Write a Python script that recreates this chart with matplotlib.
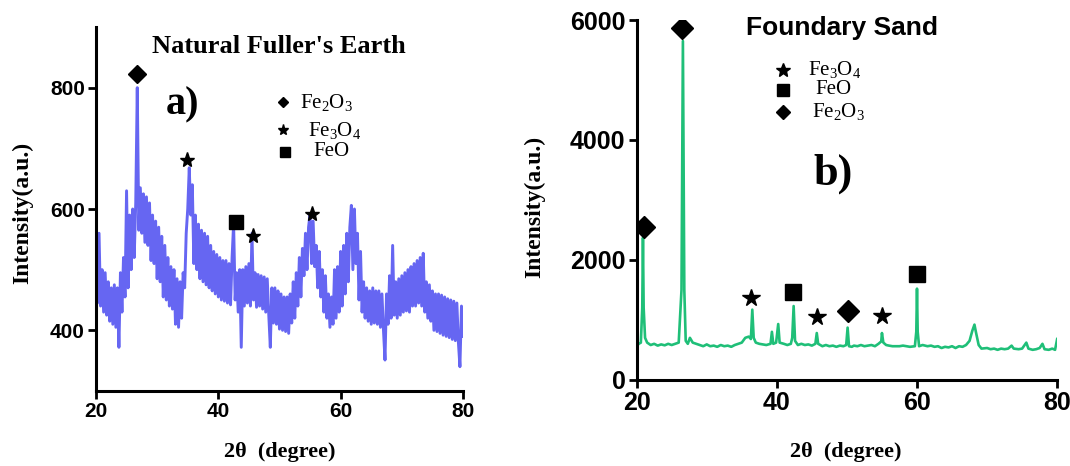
import numpy as np
import matplotlib
matplotlib.use("Agg")
import matplotlib.pyplot as plt

# ---- panel a) Natural Fuller's Earth (0.25 deg steps) ----
two_theta_a = np.arange(20.0, 80.01, 0.25)
intensity_a = [
    505, 445, 560, 440,   500, 430, 495, 425,   480, 415, 470, 410,   475, 405, 470, 372,
    495, 430, 520, 455,   630, 470, 590, 500,   600, 520, 610, 800,   565, 635, 560, 625,
    545, 620, 540, 610,   515, 590, 510, 580,   485, 570, 480, 555,   455, 540, 450, 520,
    440, 505, 435, 500,   410, 485, 405, 480,   420, 495, 470, 560,   600, 668, 590, 640,
    510, 590, 500, 575,   485, 565, 480, 560,   475, 555, 470, 540,   465, 530, 460, 525,
    455, 520, 450, 515,   448, 515, 445, 510,   442, 520, 576, 450,   495, 430, 500, 372,
    500, 440, 505, 445,   510, 440, 560, 450,   495, 438, 492, 440,   490, 435, 488, 430,
    485, 425, 372, 470,   412, 470, 410, 465,   402, 460, 400, 455,   398, 455, 395, 460,
    412, 480, 420, 495,   440, 520, 455, 535,   490, 560, 500, 570,   591, 510, 580, 505,
    540, 470, 530, 455,   500, 430, 490, 420,   460, 405, 455, 410,   500, 420, 505, 430,
    530, 440, 540, 460,   560, 480, 570, 606,   500, 600, 510, 560,   450, 530, 430, 480,
    420, 470, 415, 465,   410, 470, 412, 465,   410, 465, 405, 460,   400, 351, 460, 410,
    490, 420, 540, 425,   480, 420, 485, 425,   490, 430, 495, 432,   500, 430, 505, 440,
    510, 440, 515, 445,   520, 440, 527, 430,   480, 420, 475, 415,   465, 400, 460, 398,
    460, 395, 458, 392,   455, 390, 452, 388,   450, 385, 448, 383,   445, 380, 340, 440,
    390,
]
peaks_a_x = {"Fe2O3": [26.7], "Fe3O4": [34.9, 45.7, 55.3], "FeO": [42.9]}
peaks_a_y = {"Fe2O3": [823], "Fe3O4": [680, 555, 591], "FeO": [578]}

# ---- panel b) Foundary Sand ----
two_theta_b = [
    20.0, 20.3, 20.6, 20.8, 20.9, 21.0, 21.2, 21.5, 22.0, 22.5, 23.0, 23.5, 24.0, 24.5,
    25.0, 25.5, 26.0, 26.4, 26.6, 26.8, 27.0, 27.3, 27.6, 28.0, 28.5, 29.0, 29.5, 30.0,
    30.5, 31.0, 31.5, 32.0, 32.5, 33.0, 33.5, 34.0, 34.5, 35.0, 35.5, 36.0, 36.3, 36.5,
    36.7, 37.0, 37.5, 38.0, 38.5, 39.1, 39.3, 39.5, 39.9, 40.2, 40.4, 41.0, 41.5, 42.0,
    42.2, 42.4, 42.6, 43.0, 43.5, 44.0, 44.5, 45.0, 45.5, 45.7, 45.9, 46.5, 47.0, 47.5,
    48.0, 48.5, 49.0, 49.5, 49.9, 50.1, 50.3, 50.7, 51.0, 51.5, 52.0, 52.5, 53.0, 53.5,
    54.0, 54.5, 54.9, 55.0, 55.2, 55.6, 56.0, 56.5, 57.0, 57.5, 58.0, 58.5, 59.0, 59.7,
    59.9, 60.0, 60.1, 60.3, 60.8, 61.5, 62.0, 62.5, 63.0, 63.5, 64.0, 64.5, 65.0, 65.5,
    66.0, 66.5, 67.0, 67.5, 67.9, 68.2, 68.4, 68.8, 69.2, 70.0, 70.5, 71.0, 71.5, 72.0,
    72.5, 73.0, 73.5, 73.8, 74.5, 75.0, 75.6, 75.9, 76.5, 77.0, 77.5, 77.9, 78.2, 78.8,
    79.3, 79.7, 80.0,
]
intensity_b = [
    560, 600, 620, 1200, 2370, 1200, 700, 620, 580, 600, 570, 590, 575, 600,
    580, 600, 620, 1500, 5650, 1500, 650, 600, 700, 620, 600, 580, 560, 590,
    560, 570, 550, 580, 560, 570, 550, 580, 600, 620, 700, 720, 680, 1170,
    700, 620, 600, 590, 580, 600, 800, 600, 620, 930, 620, 600, 580, 600,
    700, 1230, 650, 580, 600, 580, 590, 570, 600, 780, 600, 560, 580, 560,
    570, 550, 570, 560, 580, 870, 560, 550, 570, 560, 580, 560, 570, 580,
    560, 600, 640, 780, 620, 580, 570, 560, 560, 560, 570, 560, 550, 560,
    800, 1520, 800, 560, 580, 560, 570, 550, 560, 530, 550, 540, 560, 530,
    560, 550, 580, 650, 820, 920, 800, 580, 520, 530, 510, 520, 500, 520,
    510, 520, 570, 520, 510, 520, 620, 520, 500, 510, 530, 600, 510, 500,
    520, 500, 680,
]
peaks_b_x = {"Fe2O3": [21.1, 26.4, 50.1], "Fe3O4": [36.3, 45.7, 55.0], "FeO": [42.3, 60.0]}
peaks_b_y = {"Fe2O3": [2550, 5870, 1150], "Fe3O4": [1370, 1050, 1070], "FeO": [1470, 1770]}

phase_marker = {"Fe2O3": "D", "Fe3O4": "*", "FeO": "s"}
phase_label = {"Fe2O3": r"Fe$_2$O$_3$", "Fe3O4": r"Fe$_3$O$_4$", "FeO": "FeO"}

tick_font = ["Liberation Sans Narrow", "Liberation Sans", "DejaVu Sans"]
serif = ["Liberation Serif", "DejaVu Serif"]
plt.rcParams["mathtext.fontset"] = "custom"
plt.rcParams["mathtext.rm"] = "Liberation Serif"
plt.rcParams["mathtext.it"] = "Liberation Serif:italic"
plt.rcParams["mathtext.bf"] = "Liberation Serif:bold"

fig = plt.figure(figsize=(10.7, 4.66), dpi=100)
ax1 = fig.add_axes([0.0897, 0.161, 0.343, 0.781])
ax2 = fig.add_axes([0.595, 0.185, 0.393, 0.772])


def style_axes(ax, size):
    for s in ["top", "right"]:
        ax.spines[s].set_visible(False)
    for s in ["left", "bottom"]:
        ax.spines[s].set_linewidth(2.2)
    ax.tick_params(direction="out", length=6, width=2, pad=2)
    for lab in ax.get_xticklabels() + ax.get_yticklabels():
        lab.set_family(tick_font)
        lab.set_fontweight("bold")
        lab.set_fontsize(size)


# panel a
ax1.plot(two_theta_a, intensity_a, color="#4b4bf0", lw=2.1, alpha=0.85)
for ph in ["Fe2O3", "Fe3O4", "FeO"]:
    ms = {"D": 9.5, "*": 11, "s": 10}[phase_marker[ph]]
    ax1.plot(peaks_a_x[ph], peaks_a_y[ph], ls="none", marker=phase_marker[ph],
             ms=ms, color="black")
ax1.set_xlim(20, 80)
ax1.set_ylim(300, 900)
ax1.set_xticks([20, 40, 60, 80])
ax1.set_yticks([400, 600, 800])
style_axes(ax1, 15)
fig.text(0.021, 0.543, "Intensity(a.u.)", family=serif, fontweight="bold", fontsize=17,
         rotation=90, ha="center", va="center")
fig.text(0.261, 0.030, "2θ  (degree)", family=serif, fontweight="bold", fontsize=16,
         ha="center", va="center")
fig.text(0.261, 0.90, "Natural Fuller's Earth", family=serif, fontweight="bold",
         fontsize=19, ha="center", va="center")
fig.text(0.171, 0.775, "a)", family=serif, fontweight="bold", fontsize=29,
         ha="center", va="center")

# legend a
leg_a = [("Fe2O3", 0.2645, 0.781, 0.280), ("Fe3O4", 0.2645, 0.721, 0.288),
         ("FeO", 0.2665, 0.674, 0.293)]
for ph, mx, my, tx in leg_a:
    ms = {"D": 5.5, "*": 8, "s": 7}[phase_marker[ph]]
    fig.lines.append(plt.Line2D([mx], [my], transform=fig.transFigure, ls="none",
                                marker=phase_marker[ph], ms=ms, color="black"))
    fig.text(tx, my, phase_label[ph], family=serif, fontsize=15, ha="left", va="center")

# panel b
ax2.plot(two_theta_b, intensity_b, color="#1fbf78", lw=1.9)
for ph in ["Fe2O3", "Fe3O4", "FeO"]:
    ms = {"D": 11, "*": 13, "s": 11.5}[phase_marker[ph]]
    ax2.plot(peaks_b_x[ph], peaks_b_y[ph], ls="none", marker=phase_marker[ph],
             ms=ms, color="black")
ax2.set_xlim(20, 80)
ax2.set_ylim(0, 6000)
ax2.set_xticks([20, 40, 60, 80])
ax2.set_yticks([0, 2000, 4000, 6000])
style_axes(ax2, 18)
fig.text(0.500, 0.556, "Intensity(a.u.)", family=serif, fontweight="bold", fontsize=17,
         rotation=90, ha="center", va="center")
fig.text(0.790, 0.030, "2θ  (degree)", family=serif, fontweight="bold", fontsize=16,
         ha="center", va="center")
fig.text(0.787, 0.94, "Foundary Sand", family=["Liberation Sans", "DejaVu Sans"],
         fontweight="bold", fontsize=19, ha="center", va="center")
fig.text(0.779, 0.628, "b)", family=serif, fontweight="bold", fontsize=32,
         ha="center", va="center")

# legend b
leg_b = [("Fe3O4", 0.7318, 0.850, 0.755), ("FeO", 0.7318, 0.807, 0.762),
         ("Fe2O3", 0.7318, 0.760, 0.759)]
for ph, mx, my, tx in leg_b:
    ms = {"D": 7.5, "*": 10, "s": 8.5}[phase_marker[ph]]
    fig.lines.append(plt.Line2D([mx], [my], transform=fig.transFigure, ls="none",
                                marker=phase_marker[ph], ms=ms, color="black"))
    fig.text(tx, my, phase_label[ph], family=serif, fontsize=15, ha="left", va="center")

fig.savefig("out.png", dpi=100)
